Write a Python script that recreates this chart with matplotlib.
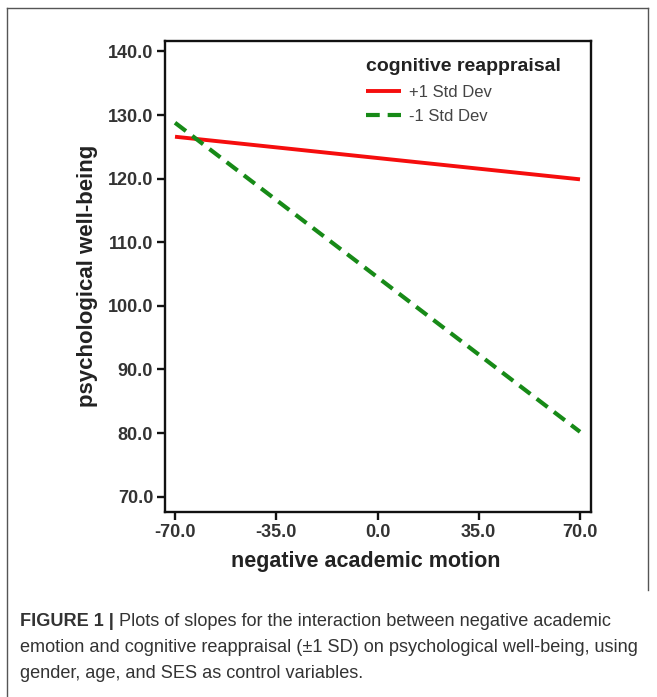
import matplotlib
matplotlib.use("Agg")
import matplotlib.pyplot as plt
from matplotlib.lines import Line2D

# ---- data ----
x_vals = [-70.0, 70.0]
plus_sd = [126.6, 119.9]     # +1 Std Dev
minus_sd = [128.8, 80.2]     # -1 Std Dev
x_ticks = [-70.0, -35.0, 0.0, 35.0, 70.0]
y_ticks = [70.0, 80.0, 90.0, 100.0, 110.0, 120.0, 130.0, 140.0]
series_labels = ["+1 Std Dev", "-1 Std Dev"]
legend_title = "cognitive reappraisal"
x_label = "negative academic motion"
y_label = "psychological well-being"
caption_bold = "FIGURE 1 |"
caption_lines = [
    " Plots of slopes for the interaction between negative academic",
    "emotion and cognitive reappraisal (\u00b11 SD) on psychological well-being, using",
    "gender, age, and SES as control variables.",
]

plt.rcParams['font.family'] = ['Liberation Sans', 'DejaVu Sans']

W, H = 657, 697
fig = plt.figure(figsize=(W / 100, H / 100), dpi=100)

def fx(px):
    return px / W

def fy(py):
    return 1 - py / H

# outer frame
frame_col = '#555555'
fig.add_artist(Line2D([fx(7), fx(648)], [fy(8), fy(8)], color=frame_col, lw=1.0))
fig.add_artist(Line2D([fx(7), fx(7)], [fy(8), fy(697)], color=frame_col, lw=1.0))
fig.add_artist(Line2D([fx(648), fx(648)], [fy(8), fy(590)], color=frame_col, lw=1.0))

ax = fig.add_axes([fx(165), fy(511.7), fx(590.7) - fx(165), fy(41) - fy(511.7)])

ax.plot(x_vals, plus_sd, color='#f50d0d', lw=2.8, solid_capstyle='butt', label=series_labels[0])
ax.plot(x_vals, minus_sd, color='#178a17', lw=3.0, dashes=(3.3, 1.9), label=series_labels[1])

ax.set_xlim(-73.46, 73.7)
ax.set_ylim(67.64, 141.65)
ax.set_xticks(x_ticks)
ax.set_yticks(y_ticks)
ax.set_xticklabels([f"{v:.1f}" for v in x_ticks])
ax.set_yticklabels([f"{v:.1f}" for v in y_ticks])

for s in ax.spines.values():
    s.set_linewidth(1.7)
    s.set_color('#111111')
ax.tick_params(direction='out', length=5.5, width=1.7, color='#111111', pad=3,
               labelsize=13, labelcolor='#333333')
for lbl in ax.get_xticklabels() + ax.get_yticklabels():
    lbl.set_fontweight('bold')

ax.set_ylabel(y_label, fontsize=16, fontweight='bold', color='#222222', labelpad=7)
fig.text(fx(366), fy(562), x_label, fontsize=15.5, fontweight='bold', color='#222222',
         ha='center', va='center')

leg = ax.legend(title=legend_title, loc='upper right', frameon=False,
                fontsize=12, title_fontproperties={'weight': 'bold', 'size': 14},
                handlelength=2.1, handletextpad=0.5, labelspacing=0.55,
                bbox_to_anchor=(0.965, 0.995), alignment='left')
leg.get_title().set_color('#222222')
for t in leg.get_texts():
    t.set_color('#444444')

# caption
cap_col = '#333333'
cap_size = 13.1
fig.canvas.draw()
r = fig.canvas.get_renderer()
tb = fig.text(fx(20.5), fy(621), caption_bold, fontsize=cap_size, fontweight='bold',
              color=cap_col, va='center', ha='left')
bb = tb.get_window_extent(renderer=r)
fig.text(bb.x1 / W, fy(621), caption_lines[0], fontsize=cap_size, color=cap_col,
         va='center', ha='left')
fig.text(fx(20.5), fy(647), caption_lines[1], fontsize=cap_size, color=cap_col,
         va='center', ha='left')
fig.text(fx(20.5), fy(673), caption_lines[2], fontsize=cap_size, color=cap_col,
         va='center', ha='left')

fig.savefig("out.png", dpi=100)
